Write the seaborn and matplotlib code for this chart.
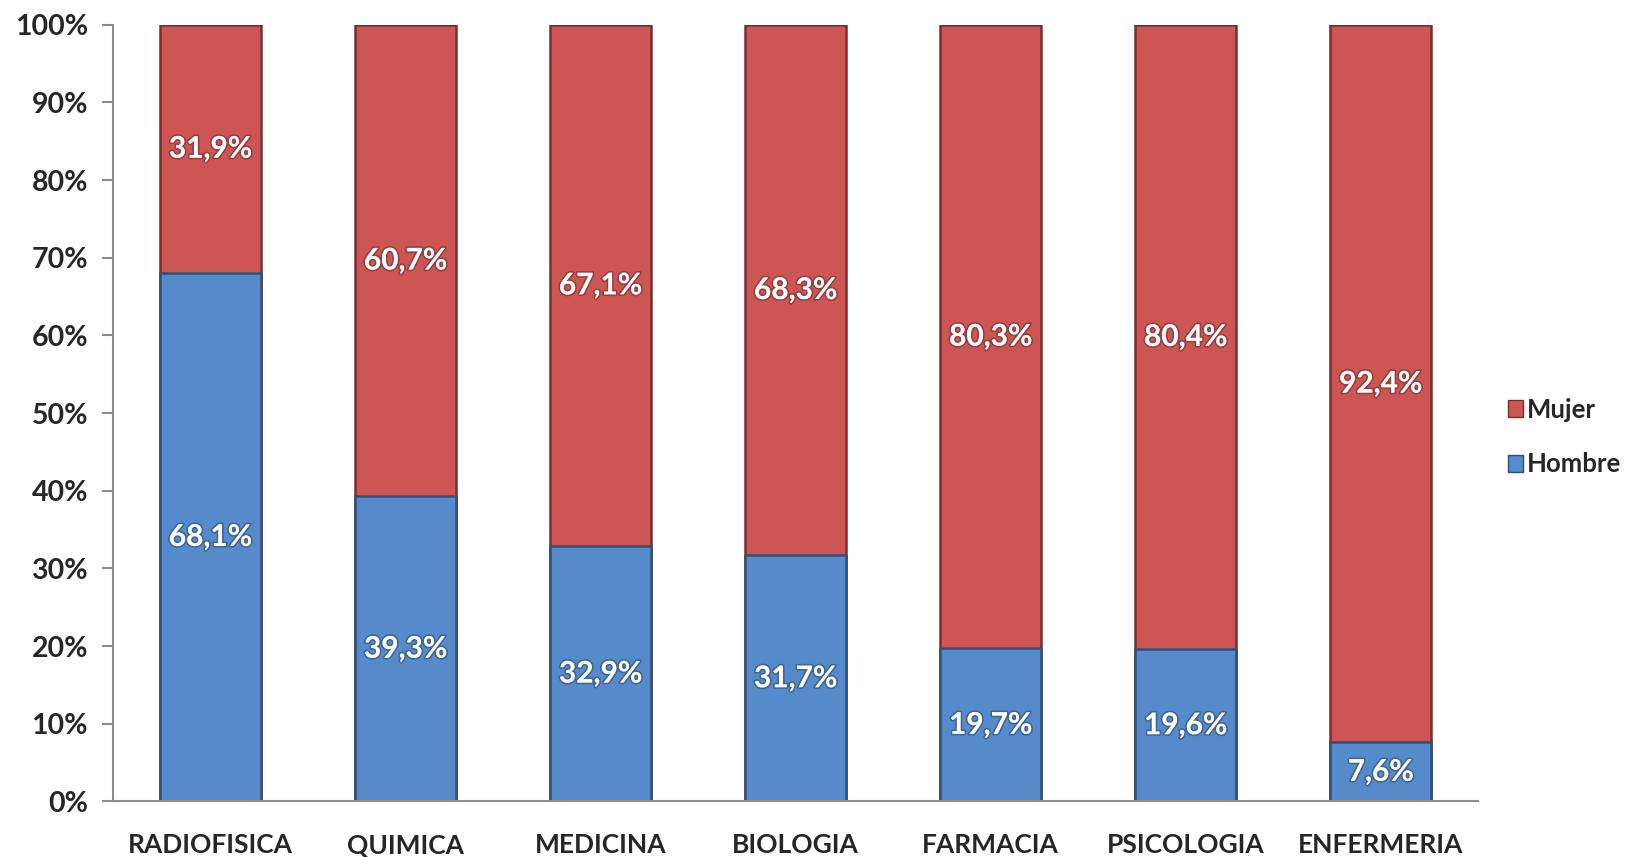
import pandas as pd
import matplotlib.pyplot as plt
import matplotlib.patheffects as pe
from matplotlib.patches import Patch
import seaborn as sns

carreras = ['RADIOFISICA', 'QUIMICA', 'MEDICINA', 'BIOLOGIA', 'FARMACIA', 'PSICOLOGIA', 'ENFERMERIA']
hombre = [68.1, 39.3, 32.9, 31.7, 19.7, 19.6, 7.6]
mujer = [31.9, 60.7, 67.1, 68.3, 80.3, 80.4, 92.4]

df = pd.DataFrame({'Carrera': carreras, 'Hombre': hombre, 'Mujer': mujer})
df['Total'] = df['Hombre'] + df['Mujer']

sns.set_style('white')
plt.rcParams['font.family'] = ['Lato', 'DejaVu Sans']
plt.rcParams['font.weight'] = 'bold'

rojo = '#CD5554'
azul = '#558ACB'

fig = plt.figure(figsize=(16.37, 8.57), dpi=100)
ax = fig.add_axes([0.069, 0.065, 0.834, 0.906])

# barras apiladas: primero el total (Mujer encima), luego Hombre
sns.barplot(data=df, x='Carrera', y='Total', color=rojo, width=0.52,
            edgecolor='#7a2e2d', linewidth=1.8, saturation=1, ax=ax)
sns.barplot(data=df, x='Carrera', y='Hombre', color=azul, width=0.52,
            edgecolor='#2f5077', linewidth=1.8, saturation=1, ax=ax)

sombra = [pe.withStroke(linewidth=2.5, foreground=(0, 0, 0, 0.25))]
for i, (h, m) in enumerate(zip(hombre, mujer)):
    ax.text(i, h / 2, f'{h:.1f}%'.replace('.', ','), ha='center', va='center',
            color='white', fontsize=21.5, fontweight='bold', path_effects=sombra)
    ax.text(i, h + m / 2, f'{m:.1f}%'.replace('.', ','), ha='center', va='center',
            color='white', fontsize=21.5, fontweight='bold', path_effects=sombra)

ax.set_ylim(0, 100)
ax.set_xlim(-0.5, len(carreras) - 0.5)
ax.set_yticks(range(0, 101, 10))
ax.set_yticklabels([f'{v}%' for v in range(0, 101, 10)], fontsize=20.5, fontweight='bold')
ax.set_xticks(range(len(carreras)))
ax.set_xticklabels(carreras, fontsize=19, fontweight='bold')
ax.set_xticks([i - 0.5 for i in range(len(carreras) + 1)], minor=True)
ax.tick_params(axis='x', which='major', length=0, pad=23)
ax.tick_params(axis='x', which='minor', length=10, width=1.5, color='#8c8c8c', direction='out')
ax.tick_params(axis='y', length=8, width=1.5, color='#8c8c8c', direction='out', left=True, pad=10)
ax.set_xlabel('')
ax.set_ylabel('')
for lado in ['top', 'right']:
    ax.spines[lado].set_visible(False)
for lado in ['left', 'bottom']:
    ax.spines[lado].set_color('#8c8c8c')
    ax.spines[lado].set_linewidth(1.5)

handles = [Patch(facecolor=rojo, edgecolor='#7a2e2d'), Patch(facecolor=azul, edgecolor='#2f5077')]
fig.legend(handles, ['Mujer', 'Hombre'], loc='center left', bbox_to_anchor=(0.907, 0.49),
           frameon=False, fontsize=18.5, handlelength=0.6, handleheight=0.6,
           handletextpad=0.15, labelspacing=1.2)

fig.savefig('out.png', dpi=100)
